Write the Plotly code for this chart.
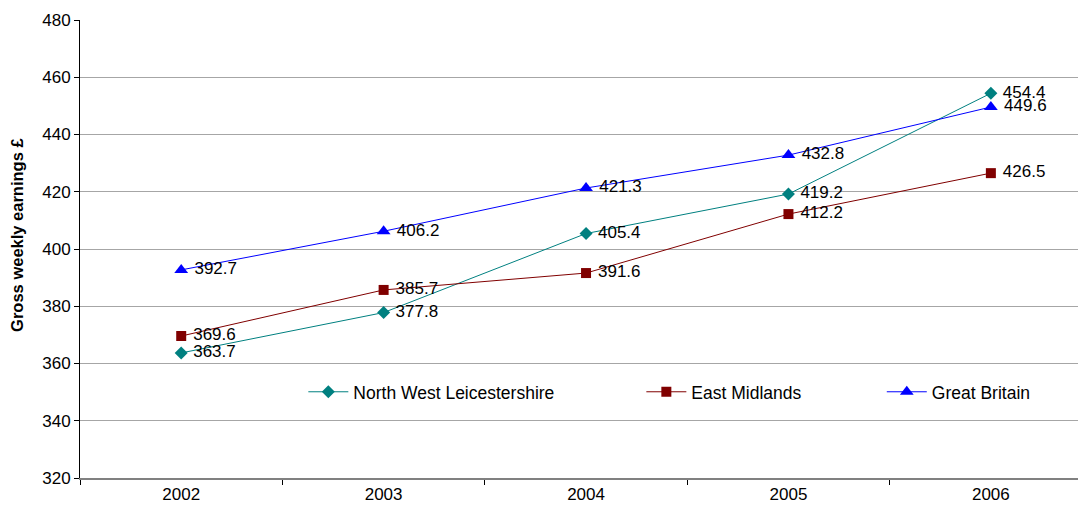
import plotly.graph_objects as go

# Gross weekly earnings (£), 2002-2006
years = [2002, 2003, 2004, 2005, 2006]
nw_leics = [363.7, 377.8, 405.4, 419.2, 454.4]
east_midlands = [369.6, 385.7, 391.6, 412.2, 426.5]
great_britain = [392.7, 406.2, 421.3, 432.8, 449.6]

series = [
    ("North West Leicestershire", nw_leics, "#008080", "diamond", 10, "legend"),
    ("East Midlands", east_midlands, "#800000", "square", 10, "legend2"),
    ("Great Britain", great_britain, "#0000FF", "triangle-up", 12, "legend3"),
]

fig = go.Figure()
for name, vals, col, sym, size, leg in series:
    fig.add_trace(go.Scatter(
        x=years, y=vals, name=name, mode="lines+markers+text",
        line=dict(color=col, width=1),
        marker=dict(symbol=sym, size=size, color=col),
        text=[" " + f"{v:.1f}" for v in vals], textposition="middle right",
        textfont=dict(size=17, color="black"),
        legend=leg, cliponaxis=False, showlegend=True,
    ))

font = dict(family="Liberation Sans, Arial, sans-serif", size=17, color="black")
leg_common = dict(orientation="h", yanchor="middle", xanchor="left", y=0.188,
                  bgcolor="rgba(0,0,0,0)", font=dict(size=17.5), itemwidth=40)

# page body has an 8px margin, so the figure is drawn 8px smaller;
# the original chart runs slightly past the right edge, hence 2006.47
fig.update_layout(
    width=1078, height=504,
    margin=dict(l=72, r=0, t=12, b=34),
    paper_bgcolor="white", plot_bgcolor="white",
    font=font, showlegend=True,
    legend=dict(x=0.222, **leg_common),
    legend2=dict(x=0.558, **leg_common),
    legend3=dict(x=0.797, **leg_common),
    xaxis=dict(
        range=[2001.5, 2006.47], tickvals=years, ticks="", showgrid=False,
        showline=True, linecolor="#808080", linewidth=2, automargin=False,
        minor=dict(tickvals=[2001.5, 2002.5, 2003.5, 2004.5, 2005.5],
                   ticks="outside", ticklen=5, tickcolor="black"),
        tickfont=dict(size=17),
    ),
    yaxis=dict(
        range=[320, 480], dtick=20, ticks="outside", ticklen=5, tickcolor="black",
        showline=True, linecolor="black", linewidth=1, automargin=False,
        showgrid=True, gridcolor="#a6a6a6", gridwidth=1, zeroline=False,
        tickfont=dict(size=17),
    ),
    annotations=[dict(
        text="<b>Gross weekly earnings £</b>", textangle=-90,
        xref="paper", yref="paper", x=-0.062, y=0.53,
        xanchor="center", yanchor="middle", showarrow=False,
        font=dict(size=16.5),
    )],
)

fig.write_html("out.html")
